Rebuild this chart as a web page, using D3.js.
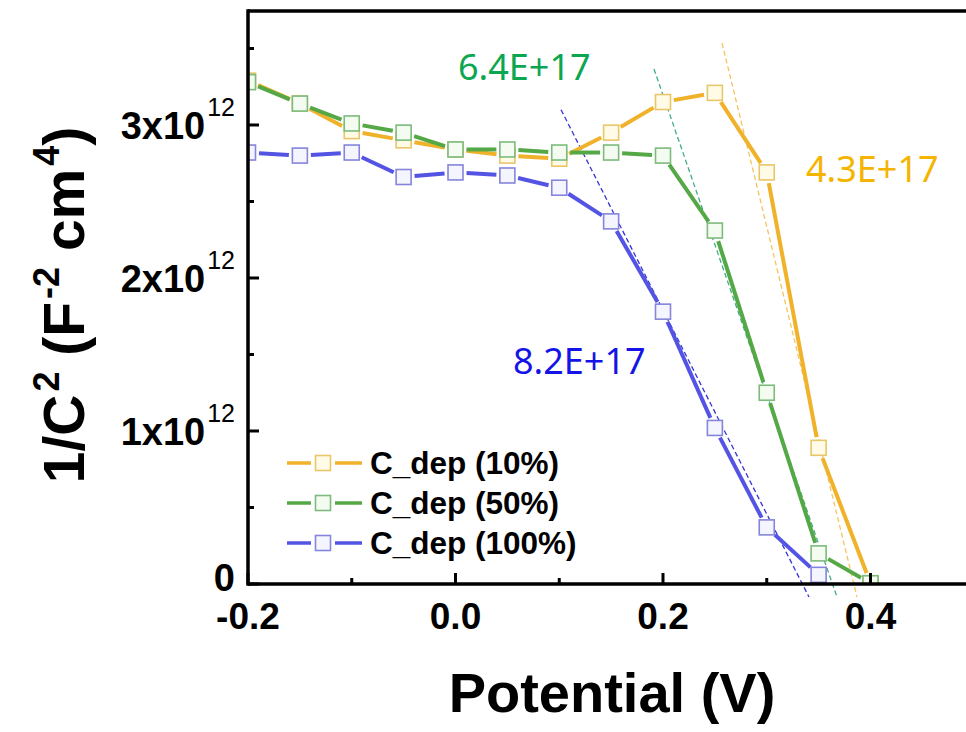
<!DOCTYPE html>
<html>
<head>
<meta charset="utf-8">
<script src="https://cdn.jsdelivr.net/npm/d3@7"></script>
<style>
  body { margin: 0; background: #fff; }
  svg { display: block; }
</style>
</head>
<body>
<svg id="chart" width="966" height="732"></svg>
<script>
// data (y in units of 1e12 F^-2 cm^4)
var potential = [-0.2, -0.15, -0.1, -0.05, 0, 0.05, 0.1, 0.15, 0.2, 0.25, 0.3, 0.35, 0.4]
var dep10  = [3.29, 3.14, 2.96, 2.90, 2.84, 2.80, 2.78, 2.95, 3.15, 3.21, 2.69, 0.89, 0.005]
var dep50  = [3.28, 3.14, 3.01, 2.95, 2.84, 2.84, 2.82, 2.82, 2.80, 2.31, 1.25, 0.20, 0.005]
var dep100 = [2.82, 2.80, 2.82, 2.66, 2.69, 2.67, 2.59, 2.37, 1.78, 1.02, 0.37, 0.06]
var seriesNames = ["C_dep (10%)", "C_dep (50%)", "C_dep (100%)"]

// linear fits (dashed), end points in data units
var fit10  = [[0.2569, 3.536], [0.387, -0.085]]
var fit50  = [[0.1913, 3.366], [0.3677, -0.085]]
var fit100 = [[0.1017, 3.10], [0.3407, -0.085]]
var fitLabels = ["4.3E+17", "6.4E+17", "8.2E+17"]

var xTicks = [-0.2, 0.0, 0.2, 0.4]
var xMinor = [-0.1, 0.1, 0.3]
var yTicks = [0, 1, 2, 3]
var yMinor = [0.5, 1.5, 2.5, 3.5]

var lineColors   = ["#f0b22a", "#55a846", "#5454e4"]
var markerColors = ["#e8c66a", "#7cbb7c", "#8585dc"]
var markerFills  = ["#fffbe6", "#f4fbf1", "#f5f5ff"]
var fitColors    = ["#f6c45e", "#3fae86", "#3535d6"]
var labelColors  = ["#f5b400", "#0aa650", "#1414e8"]

var svg = d3.select("#chart")
var plotL = 248, plotT = 11, plotB = 584
var xScale = d3.scaleLinear().domain([-0.2, 0.5]).range([plotL, plotL + 0.7 * 1037.5])
var yScale = d3.scaleLinear().domain([0, 3.745]).range([plotB, plotT])

svg.append("defs").append("clipPath").attr("id", "plotclip")
  .append("rect").attr("x", plotL).attr("y", plotT).attr("width", 966 - plotL).attr("height", plotB - plotT)

// fit lines first (not clipped, they run below the axis)
var fits = [fit10, fit50, fit100]
fits.forEach(function (f, i) {
  svg.append("line")
    .attr("x1", xScale(f[0][0])).attr("y1", yScale(f[0][1]))
    .attr("x2", xScale(f[1][0])).attr("y2", yScale(f[1][1]))
    .style("stroke", fitColors[i])
    .style("stroke-width", 1.3)
    .style("stroke-dasharray", "5,3")
})

// series: lines broken around the markers like Origin draws them
var allSeries = [dep10, dep50, dep100]
var gap = 11
var plot = svg.append("g").attr("clip-path", "url(#plotclip)")
allSeries.forEach(function (vals, i) {
  var pts = vals.map(function (v, k) { return [xScale(potential[k]), yScale(v)] })
  var segs = []
  for (var k = 0; k < pts.length - 1; k++) {
    var dx = pts[k + 1][0] - pts[k][0], dy = pts[k + 1][1] - pts[k][1]
    var d = Math.sqrt(dx * dx + dy * dy)
    if (d <= 2 * gap) continue
    var ux = dx / d, uy = dy / d
    segs.push([pts[k][0] + ux * gap, pts[k][1] + uy * gap, pts[k + 1][0] - ux * gap, pts[k + 1][1] - uy * gap])
  }
  var g = plot.append("g")
  g.selectAll("line").data(segs).enter().append("line")
    .attr("x1", function (s) { return s[0] }).attr("y1", function (s) { return s[1] })
    .attr("x2", function (s) { return s[2] }).attr("y2", function (s) { return s[3] })
    .style("stroke", lineColors[i])
    .style("stroke-width", 4)
  g.selectAll("rect").data(pts).enter().append("rect")
    .attr("x", function (p) { return p[0] - 7.5 }).attr("y", function (p) { return p[1] - 7.5 })
    .attr("width", 15).attr("height", 15)
    .style("fill", markerFills[i])
    .style("stroke", markerColors[i])
    .style("stroke-width", 1.6)
})

// axes frame
var axisG = svg.append("g")
axisG.append("line").attr("x1", plotL).attr("x2", 966).attr("y1", plotB).attr("y2", plotB)
  .style("stroke", "#000").style("stroke-width", 3.5)
axisG.append("line").attr("x1", plotL).attr("x2", 966).attr("y1", plotT).attr("y2", plotT)
  .style("stroke", "#000").style("stroke-width", 3.5)
axisG.append("line").attr("x1", plotL).attr("x2", plotL).attr("y1", plotT - 1.75).attr("y2", plotB + 1.75)
  .style("stroke", "#000").style("stroke-width", 3.5)

// x ticks (inward)
xTicks.forEach(function (t) {
  axisG.append("line").attr("x1", xScale(t)).attr("x2", xScale(t)).attr("y1", plotB).attr("y2", plotB - 11)
    .style("stroke", "#000").style("stroke-width", 3)
  axisG.append("text").attr("x", xScale(t)).attr("y", 629)
    .attr("text-anchor", "middle")
    .style("font-family", "Liberation Sans, Arial, sans-serif").style("font-weight", "bold").style("font-size", "37px")
    .text(d3.format(".1f")(t).replace("−", "-"))
})
xMinor.forEach(function (t) {
  axisG.append("line").attr("x1", xScale(t)).attr("x2", xScale(t)).attr("y1", plotB).attr("y2", plotB - 6)
    .style("stroke", "#000").style("stroke-width", 3)
})

// y ticks (inward)
yTicks.forEach(function (t) {
  axisG.append("line").attr("x1", plotL).attr("x2", plotL + 11).attr("y1", yScale(t)).attr("y2", yScale(t))
    .style("stroke", "#000").style("stroke-width", 3)
  // the zero label sits a bit higher, clear of the x labels
  var txt = axisG.append("text").attr("x", 235).attr("y", yScale(t) + (t == 0 ? 7 : 14))
    .attr("text-anchor", "end")
    .style("font-family", "Liberation Sans, Arial, sans-serif").style("font-weight", "bold").style("font-size", "38px")
  if (t == 0) {
    txt.text("0")
  } else {
    txt.append("tspan").text(t + "x10")
    txt.append("tspan").attr("dx", 2).attr("dy", -23).style("font-size", "25px").style("font-weight", "normal").text("12")
  }
})
yMinor.forEach(function (t) {
  axisG.append("line").attr("x1", plotL).attr("x2", plotL + 6).attr("y1", yScale(t)).attr("y2", yScale(t))
    .style("stroke", "#000").style("stroke-width", 3)
})

// axis titles
svg.append("text").attr("x", 612).attr("y", 712)
  .attr("text-anchor", "middle")
  .style("font-family", "Liberation Sans, Arial, sans-serif").style("font-weight", "bold").style("font-size", "56px")
  .text("Potential (V)")

var yt = svg.append("text")
  .attr("transform", "translate(84,305)rotate(-90)")
  .attr("text-anchor", "middle")
  .style("font-family", "Liberation Sans, Arial, sans-serif").style("font-weight", "bold").style("font-size", "57px")
yt.append("tspan").text("1/C")
yt.append("tspan").attr("dx", 3).attr("dy", -25).style("font-size", "36px").text("2")
yt.append("tspan").attr("dy", 25).text(" (F")
yt.append("tspan").attr("dx", 3).attr("dy", -25).style("font-size", "36px").text("-2")
yt.append("tspan").attr("dy", 25).text(" cm")
yt.append("tspan").attr("dx", 3).attr("dy", -25).style("font-size", "36px").text("4")
yt.append("tspan").attr("dy", 25).text(")")

// fit annotations
var labelPos = [[806, 182], [458, 80], [513, 374]]
fitLabels.forEach(function (lab, i) {
  svg.append("text").attr("x", labelPos[i][0]).attr("y", labelPos[i][1])
    .style("font-family", "Noto Sans, sans-serif").style("font-size", "36px")
    .style("fill", labelColors[i])
    .text(lab)
})

// legend
var legend = svg.append("g")
seriesNames.forEach(function (name, i) {
  var y = 463 + i * 40
  legend.append("line").attr("x1", 287).attr("x2", 311).attr("y1", y).attr("y2", y)
    .style("stroke", lineColors[i]).style("stroke-width", 3.5)
  legend.append("line").attr("x1", 335).attr("x2", 362).attr("y1", y).attr("y2", y)
    .style("stroke", lineColors[i]).style("stroke-width", 3.5)
  legend.append("rect").attr("x", 315.5).attr("y", y - 7.5).attr("width", 15).attr("height", 15)
    .style("fill", markerFills[i]).style("stroke", markerColors[i]).style("stroke-width", 1.6)
  legend.append("text").attr("x", 370).attr("y", y + 11)
    .style("font-family", "Liberation Sans, Arial, sans-serif").style("font-weight", "bold").style("font-size", "31.5px")
    .text(name)
})
</script>
</body>
</html>
